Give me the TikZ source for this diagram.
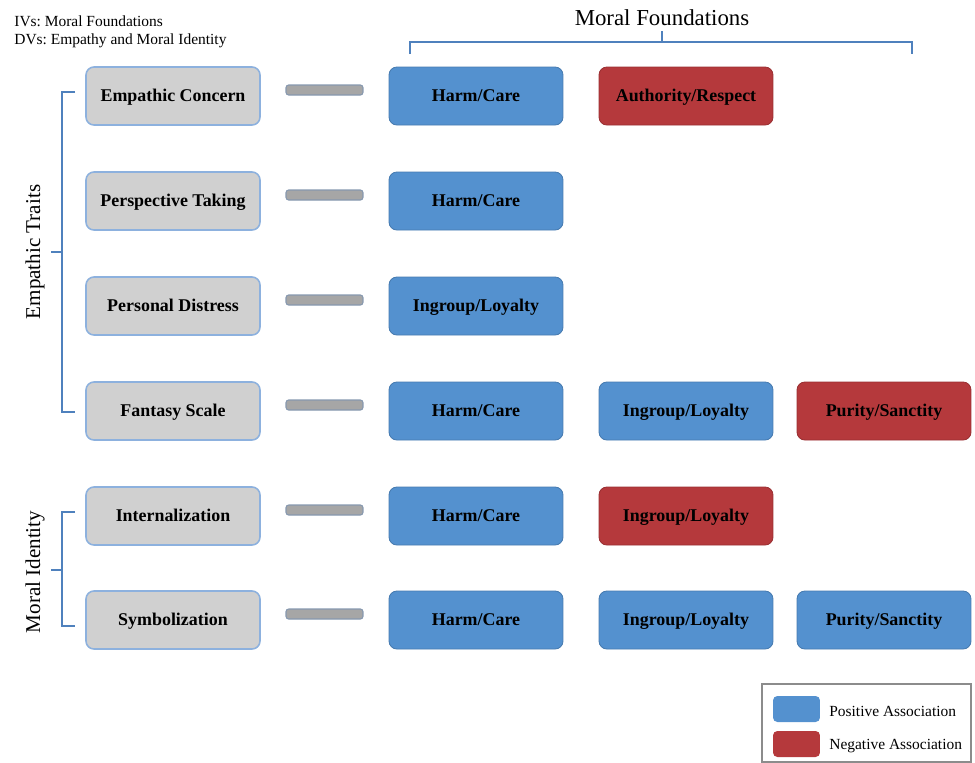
\documentclass[tikz,border=0pt]{standalone}
\usepackage{fontspec}
\setmainfont{Liberation Serif}
\usetikzlibrary{positioning}
\definecolor{posblue}{RGB}{84,145,207}
\definecolor{negred}{RGB}{181,57,60}
\definecolor{ivgray}{RGB}{208,208,208}
\definecolor{ivedge}{RGB}{141,177,222}
\definecolor{bargray}{RGB}{166,166,166}
\definecolor{braceblue}{RGB}{79,129,189}
\tikzset{
    dvbox/.style={draw=ivedge, line width=0.9pt, rounded corners=4.5pt, fill=ivgray, minimum width=3.48cm, minimum height=1.16cm, align=center, text height=0.8em, text depth=0.18em, font=\fontsize{10.2}{12}\selectfont\bfseries},
    posbox/.style={draw=posblue!85!black, line width=0.5pt, rounded corners=4.5pt, fill=posblue, minimum width=3.48cm, minimum height=1.16cm, align=center, text height=0.8em, text depth=0.18em, font=\fontsize{10.2}{12}\selectfont\bfseries},
    negbox/.style={posbox, draw=negred!85!black, fill=negred},
    linkbar/.style={draw=ivedge!50!gray, line width=0.6pt, rounded corners=1.5pt, fill=bargray, minimum width=1.54cm, minimum height=0.2cm, inner sep=0pt},
    bracket/.style={draw=braceblue, line width=1.2pt},
    grouplbl/.style={font=\fontsize{12}{15}\selectfont, inner sep=0pt},
    swatch/.style={rounded corners=2.5pt, minimum width=0.94cm, minimum height=0.52cm, inner sep=0pt},
    keylbl/.style={font=\fontsize{8.8}{10}\selectfont, anchor=west, inner sep=0pt},
}
\frenchspacing

\begin{document}
\begin{tikzpicture}[x=0.02cm, y=-0.02cm]
    \useasboundingbox (0,0) rectangle (975,762);
    \node[align=left, anchor=north west, inner sep=0pt, font=\fontsize{8.8}{10.6}\selectfont] (ivdv) at (14,15) {IVs: Moral Foundations\\DVs: Empathy and Moral Identity};
    \node[grouplbl, font=\fontsize{13}{15}\selectfont] (mftitle) at (662,18) {Moral Foundations};
    \node[grouplbl, rotate=90] (ettitle) at (35,252) {Empathic Traits};
    \node[grouplbl, rotate=90] (mititle) at (35,572) {Moral Identity};
    % empathy and moral identity
    \node[dvbox] (ec) at (173,96)  {Empathic Concern};
    \node[dvbox] (pt) at (173,201) {Perspective Taking};
    \node[dvbox] (pd) at (173,306) {Personal Distress};
    \node[dvbox] (fs) at (173,411) {Fantasy Scale};
    \node[dvbox] (intl) at (173,516) {Internalization};
    \node[dvbox] (symb) at (173,620) {Symbolization};
    \node[linkbar] (ecbar) at (324.5,90)  {};
    \node[linkbar] (ptbar) at (324.5,195) {};
    \node[linkbar] (pdbar) at (324.5,300) {};
    \node[linkbar] (fsbar) at (324.5,405) {};
    \node[linkbar] (intlbar) at (324.5,510) {};
    \node[linkbar] (symbbar) at (324.5,614) {};
    % moral foundations
    \node[posbox] (echc) at (476,96) {Harm/Care};
    \node[negbox] (ecar) at (686,96) {Authority/Respect};
    \node[posbox] (pthc) at (476,201) {Harm/Care};
    \node[posbox] (pdil) at (476,306) {Ingroup/Loyalty};
    \node[posbox] (fshc) at (476,411) {Harm/Care};
    \node[posbox] (fsil) at (686,411) {Ingroup/Loyalty};
    \node[negbox] (fsps) at (884,411) {Purity/Sanctity};
    \node[posbox] (intlhc) at (476,516) {Harm/Care};
    \node[negbox] (intlil) at (686,516) {Ingroup/Loyalty};
    \node[posbox] (symbhc) at (476,620) {Harm/Care};
    \node[posbox] (symbil) at (686,620) {Ingroup/Loyalty};
    \node[posbox] (symbps) at (884,620) {Purity/Sanctity};
    % brackets
    \draw[bracket] (410,54) -- (410,42) -- (912,42) -- (912,54);
    \draw[bracket] (662,42) -- (662,31);
    \draw[bracket] (75,92) -- (62,92) -- (62,412) -- (75,412);
    \draw[bracket] (62,252) -- (51,252);
    \draw[bracket] (75,512) -- (62,512) -- (62,626) -- (75,626);
    \draw[bracket] (62,570) -- (51,570);
    % legend
    \node[draw=black!45, line width=0.6pt, minimum width=4.18cm, minimum height=1.56cm, inner sep=0pt] (legend) at (866.5,723) {};
    \node[swatch, fill=posblue] (poskey) at (796.5,709) {};
    \node[swatch, fill=negred] (negkey) at (796.5,744) {};
    \node[keylbl] (poslbl) at (829,711) {Positive Association};
    \node[keylbl] (neglbl) at (829,746) {Negative Association};
\end{tikzpicture}
\end{document}
